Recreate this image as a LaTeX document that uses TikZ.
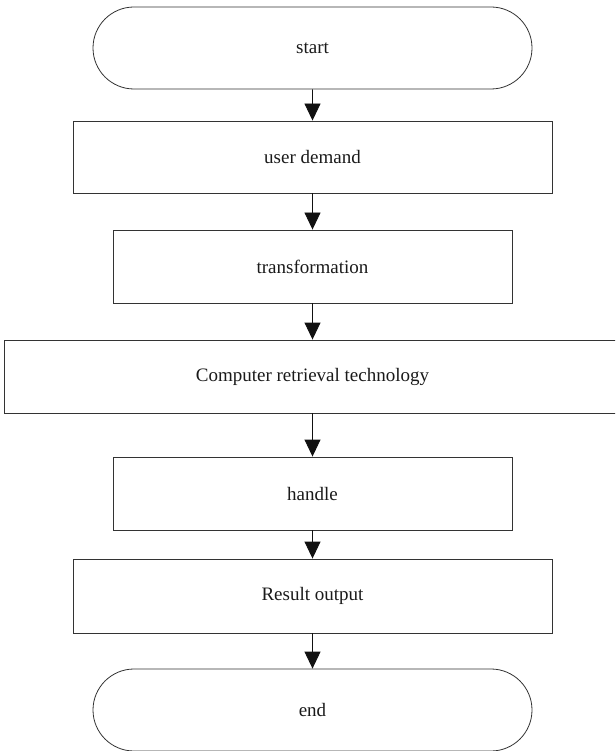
\documentclass[tikz,border=0pt]{standalone}
\usepackage{fontspec}
\setmainfont{Liberation Serif}
\usetikzlibrary{shapes.misc,arrows.meta}
\definecolor{linegray}{HTML}{333333}
\definecolor{textgray}{HTML}{1A1A1A}
\definecolor{tipblack}{HTML}{111111}
\begin{document}
\begin{tikzpicture}[x=1pt,y=-1pt,
  every node/.style={font=\fontsize{19}{22}\selectfont, text=textgray, inner sep=0pt},
  box/.style={draw=linegray, line width=0.9pt, rectangle},
  terminal/.style={draw=linegray, line width=0.8pt, rounded rectangle, minimum width=439pt, minimum height=82pt},
  flow/.style={draw=tipblack, line width=0.9pt, -{Triangle[length=17pt,width=16pt,fill=tipblack]}}]
  \useasboundingbox (0,0) rectangle (615,751);
  \clip (0,0) rectangle (615,751);
  % terminals and process boxes, top to bottom
  \node[terminal] (start) at (312.5,48) {start};
  \node[box, minimum width=479pt, minimum height=72pt] (demand) at (312.5,157) {user demand};
  \node[box, minimum width=399pt, minimum height=73pt] (trans) at (312.5,266.5) {transformation};
  \node[box, minimum width=617pt, minimum height=73pt] (comp) at (312.5,376.5) {Computer retrieval technology};
  \node[box, minimum width=399pt, minimum height=73pt] (handle) at (312.5,493.5) {handle};
  \node[box, minimum width=479pt, minimum height=74pt] (result) at (312.5,596) {Result output};
  \node[terminal] (end) at (312.5,710) {end};
  % connectors
  \draw[flow] (start) -- (demand);
  \draw[flow] (demand) -- (trans);
  \draw[flow] (trans) -- (comp);
  \draw[flow] (comp) -- (handle);
  \draw[flow] (handle) -- (result);
  \draw[flow] (result) -- (end);
\end{tikzpicture}
\end{document}
